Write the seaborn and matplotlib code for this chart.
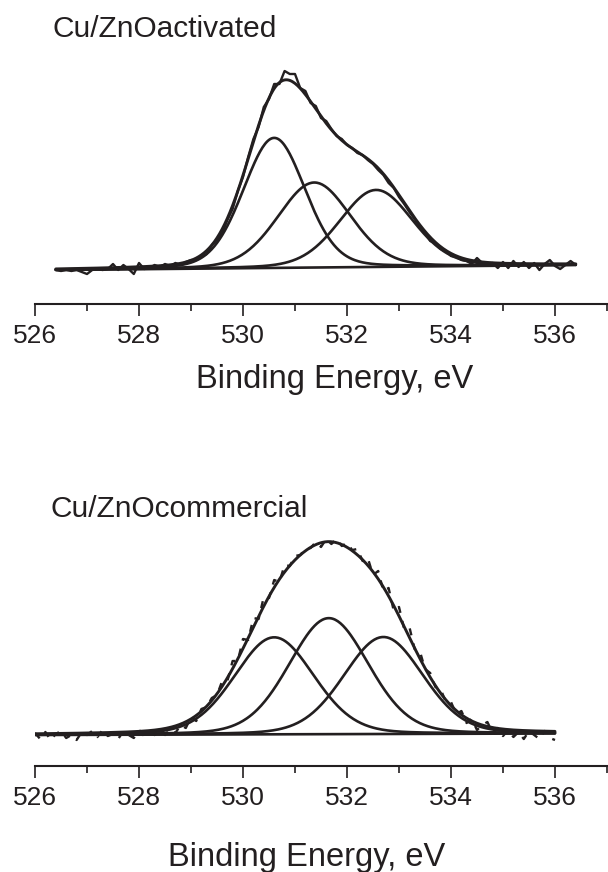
import numpy as np
import pandas as pd
import matplotlib
matplotlib.use("Agg")
import matplotlib.pyplot as plt
import seaborn as sns
from matplotlib.ticker import MultipleLocator

sns.set_theme(style="white")
plt.rcParams["font.family"] = ["Liberation Sans", "DejaVu Sans"]

# ---- Cu/ZnO activated : fitted components (centre eV, height, FWHM eV, Lorentz fraction)
act_centers = [530.60, 531.37, 532.56]
act_heights = [130.0, 85.0, 77.0]
act_fwhm = [1.40, 1.65, 1.65]
act_eta = 0.15
act_bg_ends = [0.0, 5.0]
act_range = [526.4, 536.4]
# measured spectrum, 0.1 eV steps from 526.4 eV
act_counts = [0, -1, 0, -1, 0, -2, -4, 0, 1, 0, 1, 6, 0, 5, 1, -4, 7, 1, 2, 5,
              3, 6, 4, 7, 5, 8, 10, 10, 13, 16, 25, 30, 37, 50, 61, 79, 93, 113, 131, 143,
              163, 171, 186, 186, 199, 196, 196, 182, 179, 167, 164, 152, 149, 141, 134, 131, 125, 122, 117, 115,
              110, 106, 100, 95, 87, 82, 73, 66, 58, 51, 43, 37, 29, 27, 21, 19, 14, 13, 10, 9,
              6, 12, 7, 5, 7, 2, 8, 2, 9, 3, 8, 2, 7, 0, 6, 10, 4, 1, 5, 9, 5]

# ---- Cu/ZnO commercial
com_centers = [530.60, 531.65, 532.70]
com_heights = [97.0, 116.0, 97.0]
com_fwhm = [1.80, 1.80, 1.80]
com_eta = 0.15
com_bg_ends = [0.0, 1.5]
com_range = [526.0, 536.0]
# measured spectrum, 0.1 eV steps from 526.0 eV
com_counts = [2, -4, 3, -5, 1, 4, -3, 0, -5, 3, 0, 4, -2, 5, -1, 1, -4, 4, 0, -3,
              5, -1, 3, 0, 4, 0, 6, 2, 10, 7, 18, 14, 26, 28, 37, 40, 54, 54, 74, 74,
              96, 95, 117, 116, 138, 137, 155, 153, 170, 169, 179, 180, 186, 187, 193, 188, 196, 191, 196, 189,
              192, 185, 186, 174, 177, 160, 164, 144, 147, 124, 128, 106, 108, 86, 84, 66, 62, 48, 46, 33,
              33, 21, 24, 12, 16, 5, 10, 13, 2, 7, -1, 5, -2, 3, -4, 4, 0, -4, 4, -3, -5]

W, H = 608, 872
fig = plt.figure(figsize=(W / 100, H / 100), dpi=100)
INK = "#231f20"


def comp_curve(e, c, h, f, eta):
    s = f / 2.3548
    g = np.exp(-(e - c) ** 2 / (2 * s * s))
    lo = 1.0 / (1.0 + (2 * (e - c) / f) ** 2)
    return h * ((1 - eta) * g + eta * lo)


panels = [
    (act_centers, act_heights, act_fwhm, act_eta, act_bg_ends, act_range, act_counts, "-",
     304, 34, "Cu/ZnOactivated", 37, 52, 0.524, -0.25),
    (com_centers, com_heights, com_fwhm, com_eta, com_bg_ends, com_range, com_counts, (0, (3, 3.5)),
     766, 31, "Cu/ZnOcommercial", 517, 50, 0.4755, -0.315),
]
for (centers, heights, fwhm, eta, bg_ends, rng, counts, dstyle, axis_y, below, title, ty, tx,
     lab_x, lab_y) in panels:
    ax = fig.add_axes([35 / W, (H - axis_y) / H, 572 / W, 240 / H])
    e = np.linspace(rng[0], rng[1], 401)
    bg = np.interp(e, rng, bg_ends)
    total = bg.copy()
    for c, h, f in zip(centers, heights, fwhm):
        y = bg + comp_curve(e, c, h, f, eta)
        total += comp_curve(e, c, h, f, eta)
        sns.lineplot(x=e, y=y, ax=ax, color=INK, lw=1.9, estimator=None, sort=False)
    sns.lineplot(x=e, y=bg, ax=ax, color=INK, lw=1.9, estimator=None, sort=False)
    sns.lineplot(x=e, y=total, ax=ax, color=INK, lw=2.1, estimator=None, sort=False)

    ed = np.round(np.arange(rng[0], rng[1] + 0.001, 0.1), 1)
    df = pd.DataFrame({"energy": ed, "counts": counts})
    sns.lineplot(data=df, x="energy", y="counts", ax=ax, color=INK, lw=1.7,
                 estimator=None, sort=False, linestyle=dstyle)

    ax.set_xlim(526, 537)
    ax.set_ylim(-below, 240 - below)
    for s in ["top", "right", "left"]:
        ax.spines[s].set_visible(False)
    ax.spines["bottom"].set_color(INK)
    ax.spines["bottom"].set_linewidth(1.5)
    ax.set_yticks([])
    ax.xaxis.set_major_locator(MultipleLocator(2))
    ax.xaxis.set_minor_locator(MultipleLocator(1))
    ax.tick_params(axis="x", which="major", direction="out", length=8.6, width=1.2,
                   color=INK, labelsize=19, labelcolor=INK, pad=6, bottom=True)
    ax.tick_params(axis="x", which="minor", direction="out", length=5, width=1.2,
                   color=INK, bottom=True)
    ax.set_xlabel("Binding Energy, eV", fontsize=23.5, color=INK)
    ax.xaxis.set_label_coords(lab_x, lab_y)
    ax.set_ylabel("")
    ax.patch.set_alpha(0)
    fig.text(tx / W, 1 - ty / H, title, fontsize=21.5, color=INK, va="baseline", ha="left")

fig.savefig("out.png", dpi=100)
